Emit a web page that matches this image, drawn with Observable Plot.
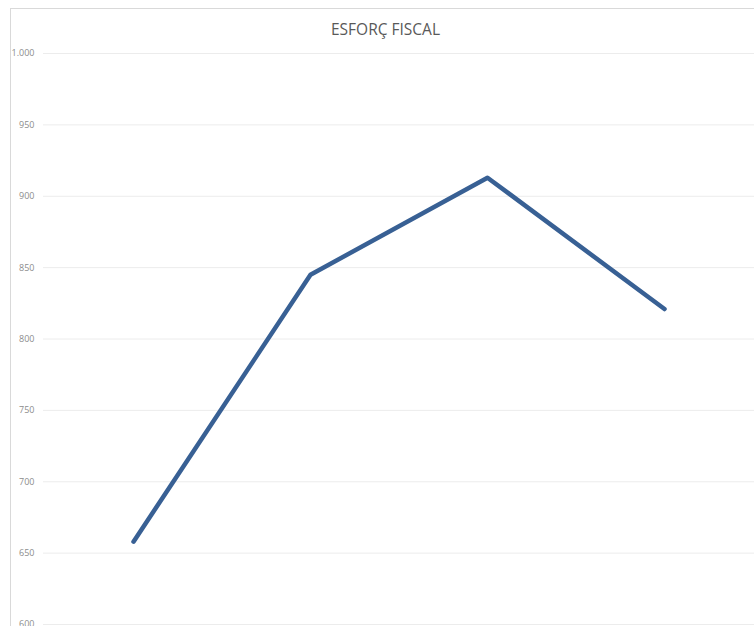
<!DOCTYPE html>
<html>
<head>
<meta charset="utf-8">
<script src="https://cdn.jsdelivr.net/npm/d3@7"></script>
<script src="https://cdn.jsdelivr.net/npm/@observablehq/plot@0.6"></script>
<style>
  html, body { margin: 0; padding: 0; background: #fff; }
  #wrap { position: relative; width: 754px; height: 626px; overflow: hidden; }
  #frame { position: absolute; left: 10px; top: 8px; width: 900px; height: 800px; border: 1px solid #d9d9d9; box-sizing: border-box; }
  #title { position: absolute; left: 0; width: 771px; top: 18px; text-align: center; font-family: "Open Sans", sans-serif; font-size: 15.5px; color: #595959; }
  #chart { position: absolute; left: 0; top: 0; }
</style>
</head>
<body>
<div id="wrap">
  <div id="frame"></div>
  <div id="title">ESFORÇ FISCAL</div>
  <div id="chart"></div>
</div>
<script>
const periods = ["2016", "2017", "2018", "2019"];
const values = [658, 845, 913, 821];
const yTicks = [600, 650, 700, 750, 800, 850, 900, 950, 1000];

const data = periods.map((p, i) => ({period: p, value: values[i]}));
const fmt = d => d >= 1000 ? d3.format(",")(d).replace(/,/g, ".") : String(d);

const chart = Plot.plot({
  width: 754,
  height: 626,
  marginTop: 53,
  marginBottom: 2,
  marginLeft: 43,
  marginRight: 0,
  style: {background: "transparent", fontFamily: "'Open Sans', sans-serif"},
  x: {type: "point", domain: periods, padding: 0.5, axis: null, label: null},
  y: {domain: [600, 1000], ticks: yTicks, tickFormat: fmt, label: null},
  marks: [
    Plot.gridY(yTicks, {stroke: "#ececec", strokeOpacity: 1}),
    Plot.axisY(yTicks, {tickSize: 0, tickPadding: 9, fill: "#8c8c8c", fontSize: 9, tickFormat: fmt, label: null}),
    Plot.line(data, {x: "period", y: "value", stroke: "#386094", strokeWidth: 4.5, strokeLinecap: "round", strokeLinejoin: "round"})
  ]
});
document.getElementById("chart").appendChild(chart);
</script>
</body>
</html>
